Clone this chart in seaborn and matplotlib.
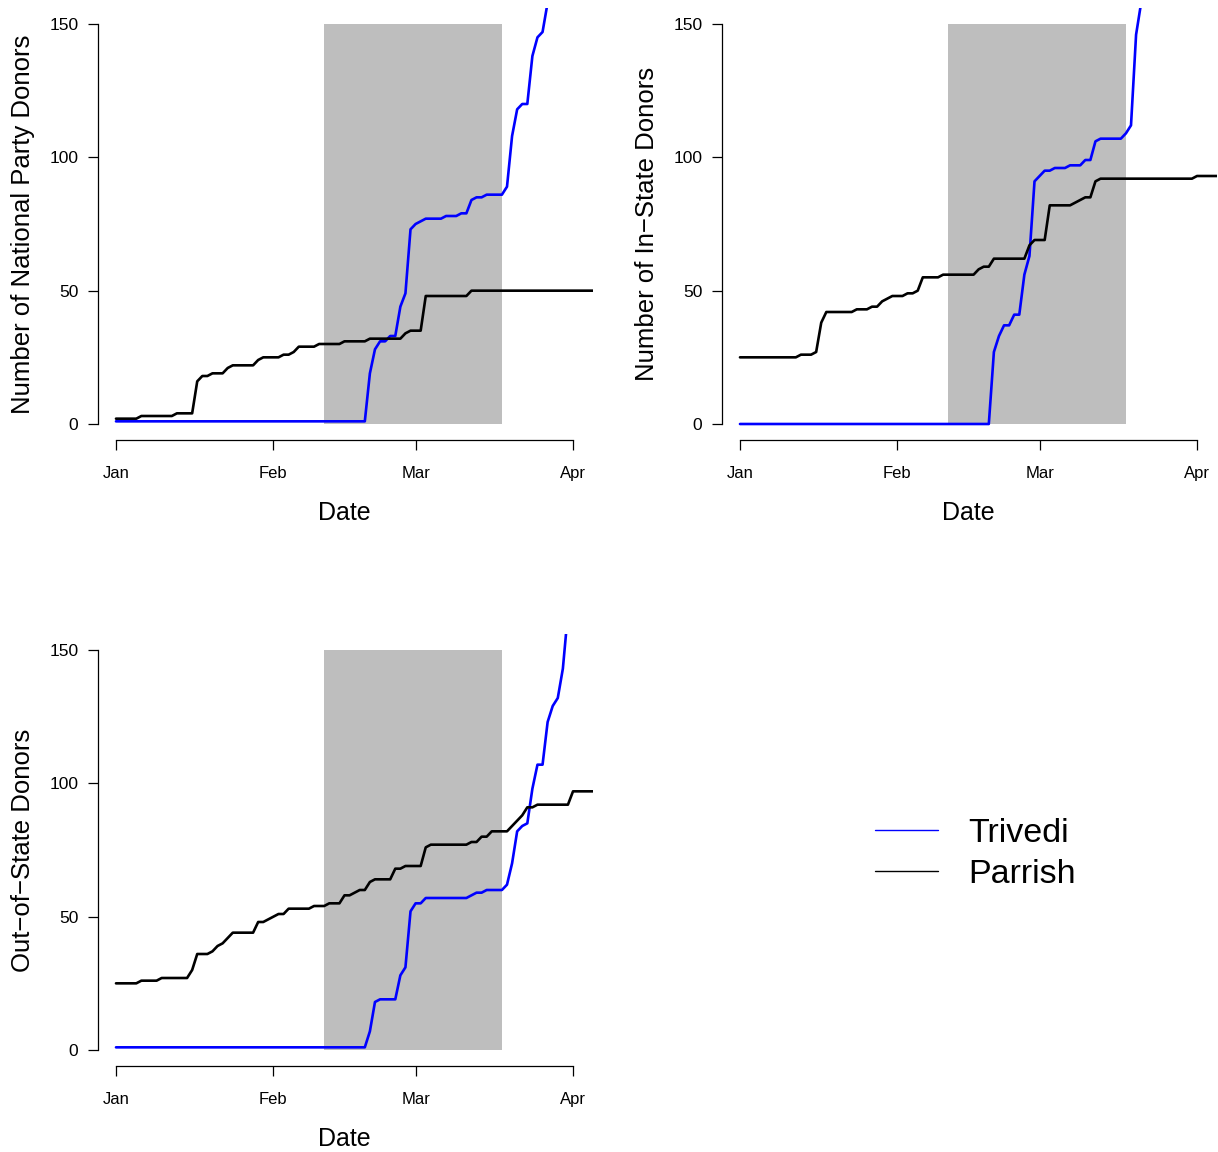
import pandas as pd
import matplotlib
matplotlib.use("Agg")
import matplotlib.pyplot as plt
import matplotlib.dates as mdates
from matplotlib.lines import Line2D
import seaborn as sns

# ---------------- data (days counted from Jan 1) ----------------
START = "2015-01-01"
candidates = ["Trivedi", "Parrish"]
colors = {"Trivedi": "#0000FF", "Parrish": "#000000"}

national_trivedi_days = [0, 49, 50, 51, 52, 53, 54, 55, 56, 57, 58, 59, 60, 61, 64, 65, 67, 68, 69, 70,
                         71, 72, 73, 76, 77, 78, 79, 80, 81, 82, 83, 84, 85]
national_trivedi_vals = [1, 1, 19, 28, 31, 31, 33, 33, 44, 49, 73, 75, 76, 77, 77, 78, 78, 79, 79, 84,
                         85, 85, 86, 86, 89, 108, 118, 120, 120, 138, 145, 147, 158]
national_parrish_days = [0, 4, 5, 11, 12, 15, 16, 17, 18, 19, 21, 22, 23, 27, 28, 29, 32, 33, 34, 35,
                         36, 39, 40, 44, 45, 49, 50, 56, 57, 58, 60, 61, 69, 70, 94]
national_parrish_vals = [2, 2, 3, 3, 4, 4, 16, 18, 18, 19, 19, 21, 22, 22, 24, 25, 25, 26, 26, 27,
                         29, 29, 30, 30, 31, 31, 32, 32, 34, 35, 35, 48, 48, 50, 50]

instate_trivedi_days = [0, 49, 50, 51, 52, 53, 54, 55, 56, 57, 58, 59, 60, 61, 62, 64, 65, 67, 68, 69,
                        70, 71, 75, 76, 77, 78, 79]
instate_trivedi_vals = [0, 0, 27, 33, 37, 37, 41, 41, 56, 63, 91, 93, 95, 95, 96, 96, 97, 97, 99, 99,
                        106, 107, 107, 109, 112, 146, 158]
instate_parrish_days = [0, 11, 12, 14, 15, 16, 17, 22, 23, 25, 26, 27, 28, 29, 30, 32, 33, 34, 35, 36,
                        39, 40, 46, 47, 48, 49, 50, 56, 57, 58, 60, 61, 65, 66, 67, 68, 69, 70, 71, 89,
                        90, 94]
instate_parrish_vals = [25, 25, 26, 26, 27, 38, 42, 42, 43, 43, 44, 44, 46, 47, 48, 48, 49, 49, 50, 55,
                        55, 56, 56, 58, 59, 59, 62, 62, 67, 69, 69, 82, 82, 83, 84, 85, 85, 91, 92, 92,
                        93, 93]

outstate_trivedi_days = [0, 49, 50, 51, 52, 55, 56, 57, 58, 59, 60, 61, 69, 70, 71, 72, 73, 76, 77, 78,
                         79, 80, 81, 82, 83, 84, 85, 86, 87, 88, 89]
outstate_trivedi_vals = [1, 1, 7, 18, 19, 19, 28, 31, 52, 55, 55, 57, 57, 58, 59, 59, 60, 60, 62, 70,
                         82, 84, 85, 98, 107, 107, 123, 129, 132, 143, 164]
outstate_parrish_days = [0, 4, 5, 8, 9, 14, 15, 16, 18, 19, 20, 21, 22, 23, 27, 28, 29, 30, 31, 32,
                         33, 34, 38, 39, 41, 42, 44, 45, 46, 47, 48, 49, 50, 51, 54, 55, 56, 57, 60, 61,
                         62, 69, 70, 71, 72, 73, 74, 77, 78, 79, 80, 81, 82, 83, 89, 90, 94]
outstate_parrish_vals = [25, 25, 26, 26, 27, 27, 30, 36, 36, 37, 39, 40, 42, 44, 44, 48, 48, 49, 50, 51,
                         51, 53, 53, 54, 54, 55, 55, 58, 58, 59, 60, 60, 63, 64, 64, 68, 68, 69, 69, 76,
                         77, 77, 78, 78, 80, 80, 82, 82, 84, 86, 88, 91, 91, 92, 92, 97, 97]

panel_ylabels = ["Number of National Party Donors", "Number of In\u2212State Donors", "Out\u2212of\u2212State Donors"]
tick_dates = ["2015-01-01", "2015-02-01", "2015-03-01", "2015-04-01"]
tick_labels = ["Jan", "Feb", "Mar", "Apr"]
y_ticks = [0, 50, 100, 150]
shade_start, shade_end = "2015-02-11", "2015-03-18"
shade_low, shade_high = 0, 150


def make_frame(tdays, tvals, pdays, pvals):
    start = pd.Timestamp(START)
    a = pd.DataFrame({"date": start + pd.to_timedelta(tdays, unit="D"), "donors": tvals, "candidate": "Trivedi"})
    b = pd.DataFrame({"date": start + pd.to_timedelta(pdays, unit="D"), "donors": pvals, "candidate": "Parrish"})
    return pd.concat([a, b], ignore_index=True)


frames = [
    make_frame(national_trivedi_days, national_trivedi_vals, national_parrish_days, national_parrish_vals),
    make_frame(instate_trivedi_days, instate_trivedi_vals, instate_parrish_days, instate_parrish_vals),
    make_frame(outstate_trivedi_days, outstate_trivedi_vals, outstate_parrish_days, outstate_parrish_vals),
]

# ---------------- style ----------------
sns.set_style("ticks")
plt.rcParams["font.family"] = ["Liberation Sans", "DejaVu Sans"]
plt.rcParams["text.color"] = "black"

W, H = 1218, 1152
fig = plt.figure(figsize=(W / 100, H / 100), dpi=100)
fig.patch.set_facecolor("white")

# axes boxes in pixels: (left, top, right, bottom)
boxes = [(97.7, 8, 593.3, 440), (721.7, 8, 1217.3, 440), (97.7, 634, 593.3, 1066)]

x0 = pd.Timestamp(tick_dates[0])
x1 = pd.Timestamp(tick_dates[-1])
pad = (x1 - x0) * 0.04
extra = pd.Timedelta(days=0.394)

for df, ylab, (l, t, r, b) in zip(frames, panel_ylabels, boxes):
    ax = fig.add_axes([l / W, 1 - b / H, (r - l) / W, (b - t) / H])
    ax.set_facecolor("white")
    ax.fill_between(pd.to_datetime([shade_start, shade_end]), shade_low, shade_high,
                    color="#BEBEBE", linewidth=0, zorder=0.5)
    sns.lineplot(data=df, x="date", y="donors", hue="candidate", hue_order=candidates,
                 palette=colors, estimator=None, legend=False, linewidth=1.9, ax=ax)
    ax.set_xlim(x0 - pad, x1 + pad + extra)
    ax.set_ylim(-6, 156)
    ax.set_xticks(pd.to_datetime(tick_dates))
    ax.set_xticklabels(tick_labels)
    ax.set_yticks(y_ticks)
    ax.set_yticklabels([str(v) for v in y_ticks])
    for s in ["top", "right"]:
        ax.spines[s].set_visible(False)
    for s in ["left", "bottom"]:
        ax.spines[s].set_linewidth(0.9)
        ax.spines[s].set_color("black")
    ax.spines["left"].set_bounds(0, 150)
    ax.spines["bottom"].set_bounds(mdates.date2num(x0), mdates.date2num(x1))
    ax.tick_params(axis="both", direction="out", length=7.5, width=0.9, color="black", labelcolor="black")
    ax.tick_params(axis="x", pad=11.5, labelsize=12)
    ax.tick_params(axis="y", pad=6.5, labelsize=12.5)
    ax.set_xlabel("Date", fontsize=18, va="center", color="black")
    ax.xaxis.set_label_coords(0.5 - 1.0 / (r - l), -73 / (b - t))
    ax.set_ylabel(ylab, fontsize=18.5, va="center", color="black")
    ax.yaxis.set_label_coords(-74.5 / (r - l), 0.5)
    ax.grid(False)

handles = [Line2D([], [], color=colors[c], linewidth=1.0) for c in candidates]
leg = fig.legend(handles=handles, labels=candidates, loc="center left",
                 bbox_to_anchor=(875 / W, 1 - 854 / H), frameon=False, fontsize=24.5,
                 handlelength=1.85, handletextpad=0.88, labelspacing=0.3,
                 borderpad=0, borderaxespad=0)
for txt in leg.get_texts():
    txt.set_color("black")

fig.savefig("out.png", dpi=100, facecolor="white")
